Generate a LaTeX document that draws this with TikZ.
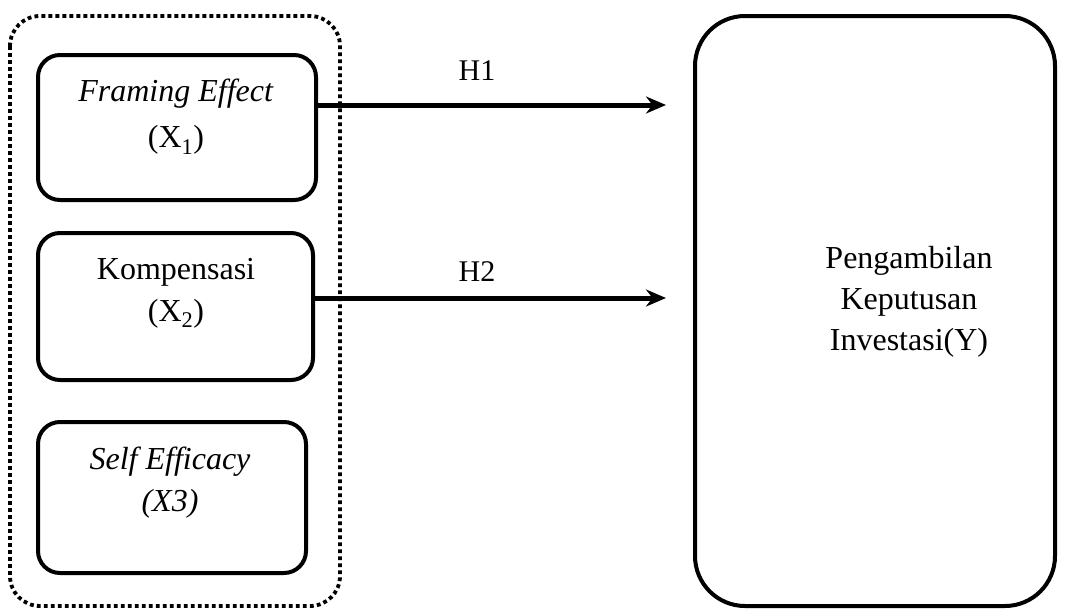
\documentclass[tikz,border=0pt]{standalone}
\usepackage{fontspec}
\setmainfont{Liberation Serif}
\usetikzlibrary{arrows.meta}
\begin{document}
\begin{tikzpicture}[x=1pt,y=-1pt,
  varbox/.style={draw,line width=4pt,rounded corners=22pt},
  grp/.style={draw,line width=3.8pt,dash pattern=on 3.8pt off 3.2pt,rounded corners=30pt},
  lbl/.style={font=\fontsize{32}{42}\selectfont,align=center,inner sep=0pt},
  hlbl/.style={font=\fontsize{30}{36}\selectfont,anchor=base,inner sep=0pt},
  arr/.style={line width=5pt,-{Stealth[length=20pt,width=17pt]}}]
\useasboundingbox (0,0) rectangle (1065,613);
\draw[grp] (10,16) rectangle (340,606);
\draw[varbox] (38,55) rectangle (316,200);
\draw[varbox] (38,233) rectangle (313,380);
\draw[varbox] (38,422) rectangle (306,573);
\draw[varbox,rounded corners=50pt] (695,16) rectangle (1055,606);
\node[lbl,font=\fontsize{32}{46}\selectfont] (x1) at (176,117) {\textit{Framing Effect}\\(X\textsubscript{1})};
\node[lbl] (x2) at (176,293) {Kompensasi\\(X\textsubscript{2})};
\node[lbl] (x3) at (170,483) {\textit{Self Efficacy}\\\textit{(X3)}};
\node[lbl,font=\fontsize{32}{41}\selectfont] (y) at (909,302) {Pengambilan\\Keputusan\\Investasi(Y)};
\coordinate (a1) at (316,105);
\coordinate (b1) at (666,105);
\coordinate (a2) at (313,298);
\coordinate (b2) at (666,298);
\draw[arr] (a1) -- (b1);
\draw[arr] (a2) -- (b2);
\node[hlbl] (h1) at (477,80) {H1};
\node[hlbl] (h2) at (477,281) {H2};
\end{tikzpicture}
\end{document}
